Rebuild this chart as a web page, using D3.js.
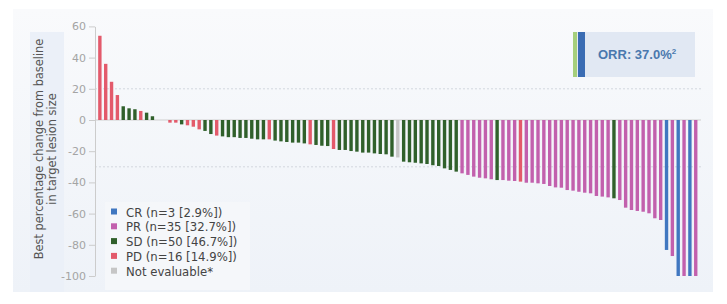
<!DOCTYPE html>
<html>
<head>
<meta charset="utf-8">
<script src="https://cdn.jsdelivr.net/npm/d3@7"></script>
<style>
  body { margin: 0; background: #fff; }
  svg { display: block; font-family: 'DejaVu Sans', sans-serif; }
</style>
</head>
<body>
<div id="chart"></div>
<script>
// best % change per patient, sorted
const bestChange = [
  54, 36, 24.5, 16, 8.8, 7.5, 6.9, 5.8, 4.7, 2.4,
  0, 0, -1.7, -1.7, -2.8, -3.4, -4.3, -6, -7, -9,
  -10, -10.5, -11, -11, -11.5, -11.5, -12, -12.4, -12.4, -12.4,
  -13.2, -13.7, -14.1, -14.5, -14.5, -15, -15.6, -16, -16.5, -16.7,
  -18.6, -19.2, -19.2, -19.9, -20.3, -20.9, -20.9, -21.4, -21.8, -22,
  -23.5, -24, -26.7, -27.1, -27.4, -27.8, -28.2, -29, -29.5, -31,
  -32, -33.1, -34.2, -35.2, -36.3, -37, -37.4, -38, -38.5, -38.5,
  -38.9, -39.1, -39.5, -40.2, -40.2, -40.6, -41, -42.3, -43.2, -43.4,
  -44.9, -45.3, -46, -46.6, -47, -48.7, -49.1, -49.6, -50.2, -51.3,
  -56.2, -57.7, -58.3, -58.8, -59.8, -63, -64.1, -83.3, -87.2, -100,
  -100, -100, -100
];

const response = [
  'PD', 'PD', 'PD', 'PD', 'SD', 'SD', 'SD', 'PD', 'SD', 'SD',
  'SD', 'SD', 'PD', 'PD', 'SD', 'PD', 'PD', 'PD', 'SD', 'SD',
  'PD', 'SD', 'SD', 'SD', 'SD', 'SD', 'SD', 'SD', 'SD', 'PD',
  'SD', 'SD', 'SD', 'SD', 'SD', 'SD', 'PD', 'SD', 'SD', 'SD',
  'PD', 'SD', 'SD', 'SD', 'SD', 'SD', 'SD', 'SD', 'SD', 'SD',
  'SD', 'NE', 'SD', 'SD', 'SD', 'SD', 'SD', 'SD', 'SD', 'SD',
  'SD', 'SD', 'PR', 'PR', 'PR', 'PR', 'PR', 'PR', 'SD', 'PR',
  'PR', 'PR', 'PD', 'PR', 'PR', 'PR', 'PR', 'PR', 'PR', 'PR',
  'PR', 'PR', 'PR', 'PR', 'PR', 'PR', 'PR', 'PR', 'SD', 'PR',
  'PR', 'PR', 'PR', 'PR', 'PR', 'PR', 'PR', 'CR', 'PR', 'CR',
  'PR', 'CR', 'PR'
];

const legendKeys = ['CR', 'PR', 'SD', 'PD', 'NE'];
const legendLabels = ['CR (n=3 [2.9%])', 'PR (n=35 [32.7%])', 'SD (n=50 [46.7%])', 'PD (n=16 [14.9%])', 'Not evaluable*'];
const yTicks = [60, 40, 20, 0, -20, -40, -60, -80, -100];
const refLines = [20, -30];
const orrText = 'ORR: 37.0%';

const colors = { CR: '#4077c0', PR: '#c260ad', SD: '#30602b', PD: '#e35a6b', NE: '#c6c6c6' };

const data = bestChange.map((v, i) => ({ id: i, value: v, resp: response[i] }));

const width = 727;
const height = 304;

const svg = d3.select('#chart')
  .append('svg')
  .attr('width', width)
  .attr('height', height);

// panel background
const grad = svg.append('defs').append('linearGradient')
  .attr('id', 'bg').attr('x1', 0).attr('y1', 0).attr('x2', 0).attr('y2', 1);
grad.append('stop').attr('offset', '0%').attr('stop-color', '#f9fafc');
grad.append('stop').attr('offset', '100%').attr('stop-color', '#eef2f8');

svg.append('rect')
  .attr('x', 13).attr('y', 9).attr('width', 700).attr('height', 283)
  .attr('fill', 'url(#bg)');

svg.append('rect')
  .attr('x', 30).attr('y', 32).attr('width', 34).attr('height', 260)
  .attr('fill', '#ebf0f8');

// scales
const x = d3.scaleBand()
  .range([97, 698.6])
  .domain(data.map(d => d.id))
  .paddingInner(0.42)
  .paddingOuter(0.2);

const y = d3.scaleLinear()
  .domain([-100, 60])
  .range([276, 26.4]);

// reference lines
svg.selectAll('.ref')
  .data(refLines)
  .enter()
  .append('line')
  .attr('x1', 95).attr('x2', 701)
  .attr('y1', d => y(d)).attr('y2', d => y(d))
  .attr('stroke', '#d3d7de')
  .attr('stroke-dasharray', '2,2');

// zero line
svg.append('line')
  .attr('x1', 95).attr('x2', 701)
  .attr('y1', y(0)).attr('y2', y(0))
  .attr('stroke', '#cfcfcf');

// Y axis
const yAxis = svg.append('g')
  .attr('transform', 'translate(95,0)')
  .call(d3.axisLeft(y)
    .tickValues(yTicks)
    .tickFormat(d => String(d))
    .tickSize(6)
    .tickSizeOuter(0)
    .tickPadding(3));

yAxis.select('.domain').attr('stroke', '#cccccc');
yAxis.selectAll('.tick line').attr('stroke', '#cccccc');
yAxis.selectAll('.tick text')
  .attr('fill', '#a4a4a4')
  .style('font-size', '11px')
  .style('font-family', 'DejaVu Sans, sans-serif');

// Bars
svg.selectAll('.bar')
  .data(data)
  .enter()
  .append('rect')
  .attr('x', d => x(d.id))
  .attr('y', d => y(Math.max(0, d.value)))
  .attr('width', x.bandwidth())
  .attr('height', d => Math.abs(y(d.value) - y(0)))
  .attr('fill', d => colors[d.resp]);

// Y axis title
const yTitle = svg.append('text')
  .attr('transform', 'translate(0,149) rotate(-90)')
  .attr('text-anchor', 'middle')
  .attr('fill', '#555')
  .style('font-size', '11.4px');
yTitle.append('tspan').attr('x', 0).attr('y', 42.5).text('Best percentage change from baseline');
yTitle.append('tspan').attr('x', 0).attr('y', 56).text('in target lesion size');

// Legend
svg.append('rect')
  .attr('x', 105).attr('y', 202).attr('width', 145).attr('height', 88)
  .attr('fill', '#f5f7fa');

const legend = svg.selectAll('.legend')
  .data(legendKeys)
  .enter()
  .append('g')
  .attr('transform', (d, i) => 'translate(111,' + (216.5 + i * 14.8) + ')');

legend.append('rect')
  .attr('x', 0).attr('y', -8).attr('width', 6).attr('height', 6)
  .attr('fill', d => colors[d]);

legend.append('text')
  .attr('x', 15).attr('y', 0)
  .attr('fill', '#444')
  .style('font-size', '11.7px')
  .text((d, i) => legendLabels[i]);

// ORR box
svg.append('rect')
  .attr('x', 573).attr('y', 32).attr('width', 122).attr('height', 45)
  .attr('fill', '#e1e8f3');
svg.append('rect')
  .attr('x', 573).attr('y', 32).attr('width', 4).attr('height', 45)
  .attr('fill', '#a6cf7c');
svg.append('rect')
  .attr('x', 578).attr('y', 32).attr('width', 7).attr('height', 45)
  .attr('fill', '#3a6cb3');

const orr = svg.append('text')
  .attr('x', 598).attr('y', 58.5)
  .attr('fill', '#4a78ae')
  .style('font-family', 'Liberation Sans, Arial, sans-serif')
  .style('font-weight', 'bold')
  .style('font-size', '13px');
orr.append('tspan').text(orrText);
orr.append('tspan').attr('dy', -5).style('font-size', '8px').text('2');
</script>
</body>
</html>
